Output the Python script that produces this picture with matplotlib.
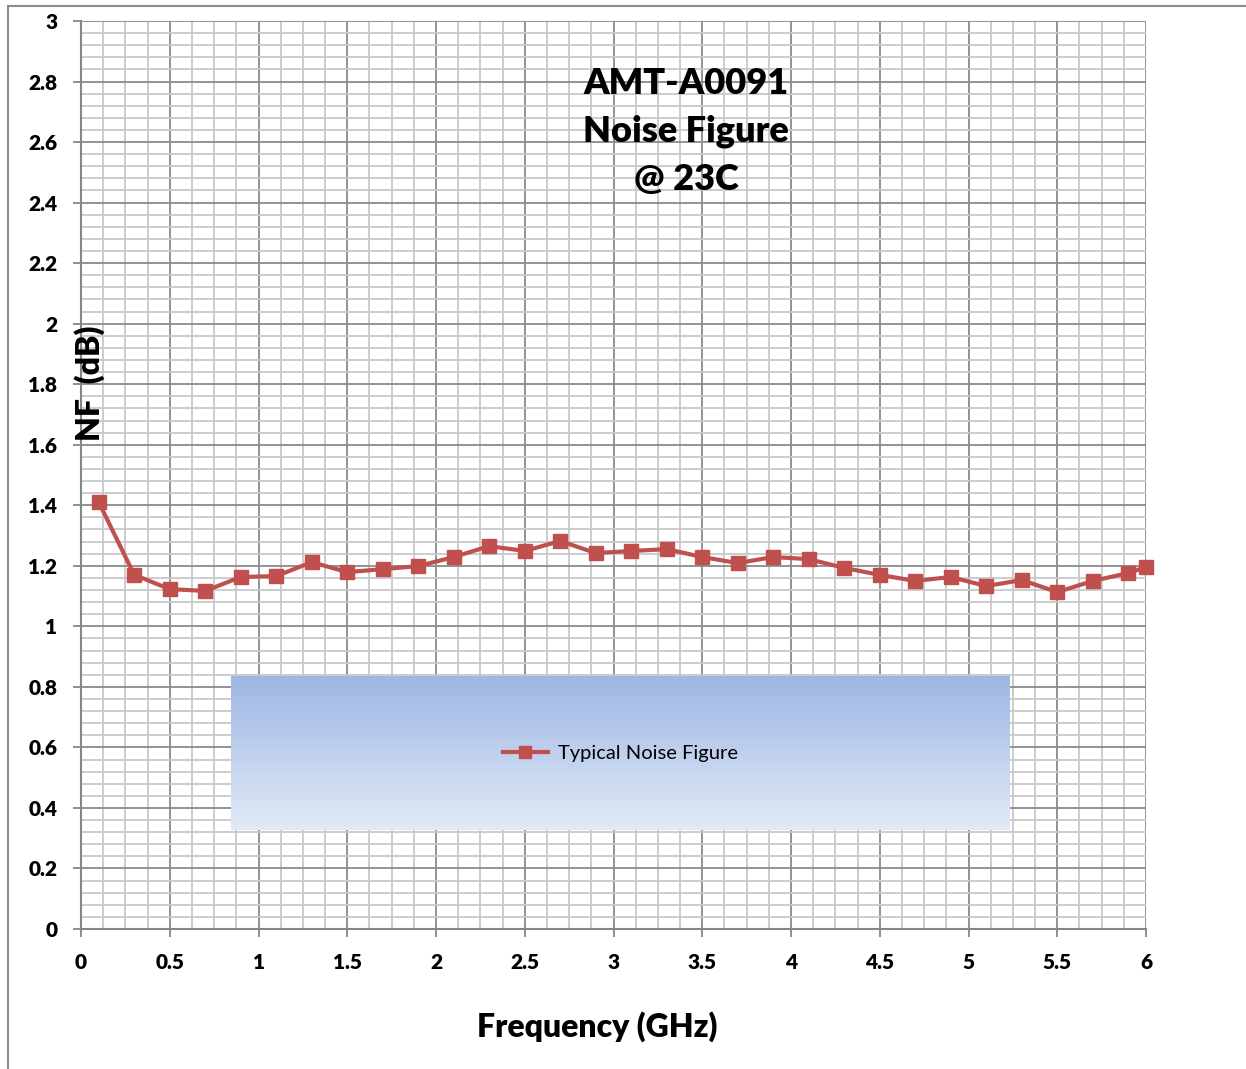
import numpy as np
import matplotlib.pyplot as plt
from matplotlib.lines import Line2D
from matplotlib.ticker import MultipleLocator

plt.rcParams['font.family'] = ['Lato', 'DejaVu Sans']
plt.rcParams['font.weight'] = 'heavy'

# data
freq_ghz = [0.1, 0.3, 0.5, 0.7, 0.9, 1.1, 1.3, 1.5, 1.7, 1.9, 2.1, 2.3, 2.5, 2.7, 2.9,
            3.1, 3.3, 3.5, 3.7, 3.9, 4.1, 4.3, 4.5, 4.7, 4.9, 5.1, 5.3, 5.5, 5.7, 5.9, 6.0]
nf_db = [1.41, 1.17, 1.123, 1.117, 1.163, 1.166, 1.212, 1.179, 1.189, 1.199, 1.229,
         1.265, 1.249, 1.282, 1.242, 1.249, 1.255, 1.229, 1.209, 1.229, 1.222, 1.193,
         1.17, 1.15, 1.163, 1.133, 1.153, 1.113, 1.15, 1.176, 1.196]
x_ticks = [0, 0.5, 1, 1.5, 2, 2.5, 3, 3.5, 4, 4.5, 5, 5.5, 6]
x_labels = ['0', '0.5', '1', '1.5', '2', '2.5', '3', '3.5', '4', '4.5', '5', '5.5', '6']
y_ticks = [0, 0.2, 0.4, 0.6, 0.8, 1, 1.2, 1.4, 1.6, 1.8, 2, 2.2, 2.4, 2.6, 2.8, 3]
y_labels = ['0', '0.2', '0.4', '0.6', '0.8', '1', '1.2', '1.4', '1.6', '1.8', '2',
            '2.2', '2.4', '2.6', '2.8', '3']
series_name = 'Typical Noise Figure'
title_text = 'AMT-A0091\nNoise Figure\n@ 23C'

W, H = 1246, 1069
fig = plt.figure(figsize=(W / 100, H / 100), dpi=100)
ax = fig.add_axes([81 / W, 1 - 929 / H, (1146 - 81) / W, (929 - 21) / H])

# outer chart frame (left and top edges visible)
fig.add_artist(Line2D([8 / W, 8 / W], [1 - 6 / H, 0], color='#8c8c8c', lw=1.5))
fig.add_artist(Line2D([8 / W, 1], [1 - 6 / H, 1 - 6 / H], color='#8c8c8c', lw=1.5))

ax.set_xlim(0, 6)
ax.set_ylim(0, 3)
ax.set_xticks(x_ticks)
ax.set_xticklabels(x_labels)
ax.set_yticks(y_ticks)
ax.set_yticklabels(y_labels)
ax.xaxis.set_minor_locator(MultipleLocator(0.125))
ax.yaxis.set_minor_locator(MultipleLocator(0.04))
ax.grid(which='minor', color='#c8c8c8', lw=1.3)
ax.grid(which='major', color='#8a8a8a', lw=1.3)
ax.set_axisbelow(True)

for s in ['top', 'right']:
    ax.spines[s].set_visible(False)
for s in ['left', 'bottom']:
    ax.spines[s].set_color('#868686')
    ax.spines[s].set_linewidth(1.5)

ax.tick_params(which='major', length=6, width=1.3, color='#868686', labelsize=15)
ax.tick_params(axis='x', pad=11)
ax.tick_params(axis='y', pad=11)
ax.tick_params(which='minor', length=0)

line, = ax.plot(freq_ghz, nf_db, color='#c0504d', lw=3, marker='s', markersize=10,
                label=series_name, clip_on=False, zorder=5)

ax.text(3.41, 2.636, title_text, ha='center', va='center', fontsize=26,
        linespacing=1.55, zorder=6)

fig.text(597 / W, 1 - 1027 / H, 'Frequency (GHz)', ha='center', va='center',
         fontsize=23)
fig.text(90 / W, 1 - 383 / H, 'NF  (dB)', ha='center', va='center', rotation=90,
         fontsize=23)

# legend box with vertical blue gradient
lax = fig.add_axes([231 / W, 1 - 830 / H, (1010 - 231) / W, (830 - 676) / H])
top = np.array([0x9d, 0xb6, 0xe4]) / 255
bot = np.array([0xe2, 0xea, 0xf7]) / 255
t = np.linspace(0, 1, 200)[:, None]
grad = (top[None, :] * (1 - t) + bot[None, :] * t)[:, None, :]
lax.imshow(grad, aspect='auto', extent=[0, 1, 0, 1])
lax.set_axis_off()
lax.legend(handles=[line], loc='center', frameon=False,
           prop={'size': 14.5, 'weight': 'normal'},
           handlelength=2.2, handletextpad=0.5, markerscale=0.8)

fig.savefig('out.png', dpi=100)
